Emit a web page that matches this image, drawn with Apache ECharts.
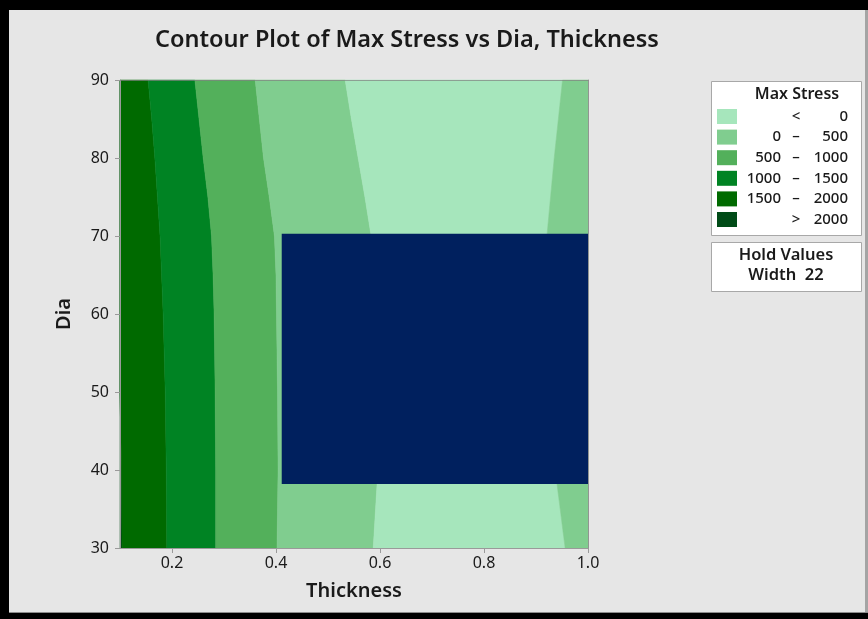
<!DOCTYPE html>
<html>
<head>
<meta charset="utf-8">
<script src="https://cdn.jsdelivr.net/npm/echarts@6/dist/echarts.min.js"></script>
<style>
html,body{margin:0;padding:0;background:#000;}
#c{width:868px;height:619px;}
</style>
</head>
<body>
<div id="c"></div>
<script>
// ---- data ----
const diaLevels = [90, 85, 80, 75, 70, 65, 60, 50, 40, 30];
// contour boundaries: thickness value at each dia level
const bLeft  = [0.100, 0.100, 0.100, 0.100, 0.100, 0.100, 0.100, 0.100, 0.100, 0.100];
const b2000  = [0.100, 0.100, 0.100, 0.100, 0.100, 0.100, 0.100, 0.100, 0.103, 0.104];
const b1500  = [0.154, 0.161, 0.167, 0.172, 0.177, 0.180, 0.183, 0.187, 0.189, 0.190];
const b1000  = [0.244, 0.252, 0.260, 0.269, 0.276, 0.279, 0.281, 0.283, 0.284, 0.284];
const b500   = [0.360, 0.368, 0.376, 0.387, 0.397, 0.400, 0.401, 0.403, 0.404, 0.402];
const b0Left = [0.533, 0.545, 0.558, 0.571, 0.583, 0.587, 0.590, 0.595, 0.596, 0.587];
const b0Right= [0.951, 0.943, 0.935, 0.928, 0.921, 0.920, 0.921, 0.927, 0.937, 0.956];
const bRight = [1.000, 1.000, 1.000, 1.000, 1.000, 1.000, 1.000, 1.000, 1.000, 1.000];
const boundaries = [bLeft, b2000, b1500, b1000, b500, b0Left, b0Right, bRight];
// level of each band between consecutive boundaries
const bandLevels = ['> 2000', '1500 – 2000', '1000 – 1500', '500 – 1000', '0 – 500', '< 0', '0 – 500'];
// hidden/blocked rectangle: [thickMin, diaMax, thickMax, diaMin]
const blockRect = [0.411, 70.3, 1.0, 38.2];

const xTicks = [0.2, 0.4, 0.6, 0.8, 1.0];
const legendLow  = ['', '0', '500', '1000', '1500', ''];
const legendMid  = ['<', '–', '–', '–', '–', '>'];
const legendHigh = ['0', '500', '1000', '1500', '2000', '2000'];
const legendKeys = ['< 0', '0 – 500', '500 – 1000', '1000 – 1500', '1500 – 2000', '> 2000'];
const holdName = 'Width';
const holdValue = '22';

// ---- styles ----
const levelColors = {
  '< 0': '#a6e6bc',
  '0 – 500': '#80cd8f',
  '500 – 1000': '#53b05b',
  '1000 – 1500': '#008323',
  '1500 – 2000': '#006a00',
  '> 2000': '#004b17'
};
const FONT = 'Noto Sans';
const TXT = '#1a1a1a';

const chart = echarts.init(document.getElementById('c'), null, {renderer: 'canvas'});

const graphics = [
  {type: 'rect', z: 0, shape: {x: 9, y: 10, width: 856, height: 602}, style: {fill: '#e6e6e6'}, silent: true},
  {type: 'rect', z: 0, shape: {x: 865, y: 10, width: 3, height: 603}, style: {fill: '#a4a4a4'}, silent: true},
  {type: 'rect', z: 0, shape: {x: 9, y: 612, width: 859, height: 1}, style: {fill: '#8c8c8c'}, silent: true},
  {type: 'text', z: 5, x: 407, y: 40, style: {text: 'Contour Plot of Max Stress vs Dia, Thickness', font: '600 23.5px "' + FONT + '"', fill: TXT, textAlign: 'center', textVerticalAlign: 'middle'}},
  // legend box
  {type: 'rect', z: 5, shape: {x: 711.5, y: 81.5, width: 150, height: 154}, style: {fill: '#ffffff', stroke: '#a8a8a8', lineWidth: 1}},
  {type: 'text', z: 6, x: 797, y: 94, style: {text: 'Max Stress', font: '600 16px "' + FONT + '"', fill: TXT, textAlign: 'center', textVerticalAlign: 'middle'}},
  // hold values box
  {type: 'rect', z: 5, shape: {x: 711.5, y: 242.5, width: 150, height: 49}, style: {fill: '#ffffff', stroke: '#a8a8a8', lineWidth: 1}},
  {type: 'text', z: 6, x: 786, y: 255, style: {text: 'Hold Values', font: '600 16.5px "' + FONT + '"', fill: TXT, textAlign: 'center', textVerticalAlign: 'middle'}},
  {type: 'text', z: 6, x: 786, y: 275, style: {text: holdName + '  ' + holdValue, font: '600 16.5px "' + FONT + '"', fill: TXT, textAlign: 'center', textVerticalAlign: 'middle'}}
];
legendKeys.forEach((k, i) => {
  const cy = 116.5 + i * 20.6;
  graphics.push({type: 'rect', z: 6, shape: {x: 717, y: cy - 7.5, width: 20, height: 15}, style: {fill: levelColors[k]}});
  if (legendLow[i]) graphics.push({type: 'text', z: 6, x: 781, y: cy, style: {text: legendLow[i], font: '500 15px "' + FONT + '"', fill: TXT, textAlign: 'right', textVerticalAlign: 'middle'}});
  graphics.push({type: 'text', z: 6, x: 796, y: cy, style: {text: legendMid[i], font: '500 15px "' + FONT + '"', fill: TXT, textAlign: 'center', textVerticalAlign: 'middle'}});
  graphics.push({type: 'text', z: 6, x: 848, y: cy, style: {text: legendHigh[i], font: '500 15px "' + FONT + '"', fill: TXT, textAlign: 'right', textVerticalAlign: 'middle'}});
});

const axisLineStyle = {color: '#9a9a9a', width: 1};

const option = {
  backgroundColor: '#000000',
  animation: false,
  textStyle: {fontFamily: FONT},
  graphic: graphics,
  grid: {left: 120, top: 80, width: 468, height: 468, containLabel: false, show: false},
  xAxis: [{
    type: 'value', min: 0.1, max: 1.0, z: 10,
    name: 'Thickness', nameLocation: 'middle', nameGap: 33,
    nameTextStyle: {fontFamily: FONT, fontSize: 20, fontWeight: 600, color: TXT},
    axisLine: {show: true, onZero: false, lineStyle: axisLineStyle},
    axisTick: {show: true, length: 5, lineStyle: axisLineStyle, customValues: xTicks},
    axisLabel: {customValues: xTicks, fontFamily: FONT, fontSize: 16, color: TXT, margin: 7, formatter: v => Number(v).toFixed(1)},
    splitLine: {show: false}
  }, {
    type: 'value', min: 0.1, max: 1.0, position: 'top', z: 10,
    axisLine: {show: true, onZero: false, lineStyle: {color: 'rgba(130,130,130,0.7)', width: 1}},
    axisTick: {show: false}, axisLabel: {show: false}, splitLine: {show: false}
  }],
  yAxis: [{
    type: 'value', min: 30, max: 90, interval: 10, z: 10,
    name: 'Dia', nameLocation: 'middle', nameGap: 46,
    nameTextStyle: {fontFamily: FONT, fontSize: 20, fontWeight: 600, color: TXT},
    axisLine: {show: true, onZero: false, lineStyle: axisLineStyle},
    axisTick: {show: true, length: 5, lineStyle: axisLineStyle},
    axisLabel: {fontFamily: FONT, fontSize: 16, color: TXT, margin: 11},
    splitLine: {show: false}
  }, {
    type: 'value', min: 30, max: 90, interval: 10, position: 'right', z: 10,
    axisLine: {show: true, onZero: false, lineStyle: {color: 'rgba(130,130,130,0.8)', width: 1}},
    axisTick: {show: false}, axisLabel: {show: false}, splitLine: {show: false}
  }],
  series: [{
    type: 'custom',
    z: 2,
    xAxisIndex: 0, yAxisIndex: 0,
    data: bandLevels.map((lv, i) => [i]),
    renderItem: function (params, api) {
      const i = params.dataIndex;
      const L = boundaries[i], R = boundaries[i + 1];
      const pts = [];
      for (let k = 0; k < diaLevels.length; k++) pts.push(api.coord([L[k], diaLevels[k]]));
      for (let k = diaLevels.length - 1; k >= 0; k--) pts.push(api.coord([R[k], diaLevels[k]]));
      return {type: 'polygon', shape: {points: pts}, style: {fill: levelColors[bandLevels[i]], stroke: levelColors[bandLevels[i]], lineWidth: 0.5}};
    }
  }, {
    type: 'custom',
    z: 3,
    xAxisIndex: 0, yAxisIndex: 0,
    data: [blockRect],
    renderItem: function (params, api) {
      const p1 = api.coord([api.value(0), api.value(1)]);
      const p2 = api.coord([api.value(2), api.value(3)]);
      return {type: 'rect', shape: {x: p1[0], y: p1[1], width: p2[0] - p1[0], height: p2[1] - p1[1]}, style: {fill: '#00205e'}};
    }
  }]
};
chart.setOption(option);
</script>
</body>
</html>
